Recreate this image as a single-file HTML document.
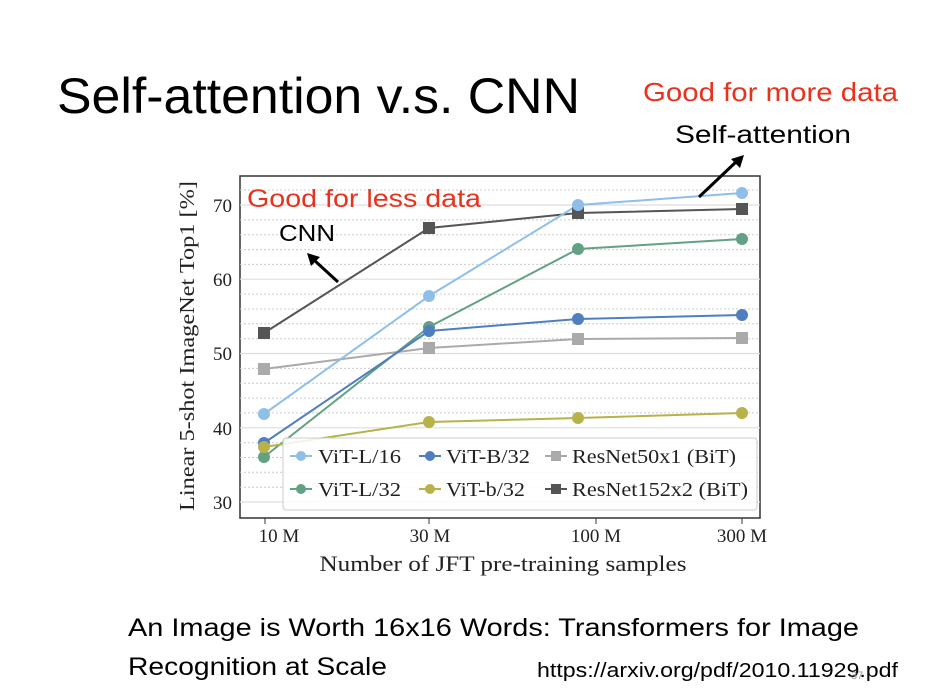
<!DOCTYPE html>
<html><head><style>
html,body{margin:0;padding:0;background:#fff;}
svg{display:block;}
</style></head><body>
<svg width="939" height="688" viewBox="0 0 939 688" xmlns="http://www.w3.org/2000/svg">
<rect width="939" height="688" fill="#fff"/>
<text x="57" y="113" font-family="Liberation Sans, sans-serif" font-size="50" fill="#000" textLength="523" lengthAdjust="spacingAndGlyphs">Self-attention v.s. CNN</text>
<text x="643" y="101" font-family="Liberation Sans, sans-serif" font-size="26" fill="#e8321e" textLength="255" lengthAdjust="spacingAndGlyphs">Good for more data</text>
<text x="675" y="143" font-family="Liberation Sans, sans-serif" font-size="25" fill="#000" textLength="176" lengthAdjust="spacingAndGlyphs">Self-attention</text>
<g font-family="Liberation Serif, serif">
<rect x="240" y="176" width="520" height="342" fill="#fff" stroke="#333" stroke-width="1.5"/>
<g stroke="#ccc" stroke-dasharray="2,2" stroke-width="1">
<line x1="240" x2="760" y1="487.2" y2="487.2"/><line x1="240" x2="760" y1="472.3" y2="472.3"/><line x1="240" x2="760" y1="457.5" y2="457.5"/><line x1="240" x2="760" y1="442.7" y2="442.7"/>
<line x1="240" x2="760" y1="412.9" y2="412.9"/><line x1="240" x2="760" y1="398.1" y2="398.1"/><line x1="240" x2="760" y1="383.2" y2="383.2"/><line x1="240" x2="760" y1="368.4" y2="368.4"/>
<line x1="240" x2="760" y1="338.7" y2="338.7"/><line x1="240" x2="760" y1="323.8" y2="323.8"/><line x1="240" x2="760" y1="309" y2="309"/><line x1="240" x2="760" y1="294.1" y2="294.1"/>
<line x1="240" x2="760" y1="264.4" y2="264.4"/><line x1="240" x2="760" y1="249.6" y2="249.6"/><line x1="240" x2="760" y1="234.7" y2="234.7"/><line x1="240" x2="760" y1="219.9" y2="219.9"/>
<line x1="240" x2="760" y1="190" y2="190"/>
</g>
<g stroke="#ddd" stroke-width="1.2">
<line x1="240" x2="760" y1="502" y2="502"/><line x1="240" x2="760" y1="427.8" y2="427.8"/><line x1="240" x2="760" y1="353.5" y2="353.5"/><line x1="240" x2="760" y1="279.2" y2="279.2"/><line x1="240" x2="760" y1="205" y2="205"/>
</g>
<g font-size="19" fill="#222" text-anchor="end">
<text x="232" y="509">30</text><text x="232" y="435">40</text><text x="232" y="360">50</text><text x="232" y="286">60</text><text x="232" y="212">70</text>
</g>
<g stroke="#333"><line x1="265" x2="265" y1="518" y2="524"/><line x1="429" x2="429" y1="518" y2="524"/><line x1="596" x2="596" y1="518" y2="524"/><line x1="742" x2="742" y1="518" y2="524"/></g>
<g font-size="19" fill="#222" text-anchor="middle">
<text x="279" y="542">10 M</text><text x="430" y="542">30 M</text><text x="596" y="542">100 M</text><text x="742" y="542">300 M</text>
<text x="503" y="571" font-size="22" textLength="367" lengthAdjust="spacingAndGlyphs">Number of JFT pre-training samples</text>
</g>
<text transform="translate(194,346) rotate(-90)" font-size="21" fill="#222" text-anchor="middle" textLength="330" lengthAdjust="spacingAndGlyphs">Linear 5-shot ImageNet Top1 [%]</text>
<g stroke-width="2" fill="none">
<polyline points="264,333 429,228 578,213 742,209" stroke="#555"/>
<polyline points="264,369 429,348 578,339 742,338" stroke="#aaa"/>
<polyline points="264,414 429,296 578,205 742,193" stroke="#8fbfe8"/>
<polyline points="264,457 429,327 578,249 742,239" stroke="#63a184"/>
<polyline points="264,443 429,331 578,319 742,315" stroke="#4f7fbf"/>
<polyline points="264,447 429,422 578,418 742,413" stroke="#b8b24a"/>
</g>
<g fill="#555"><rect x="258" y="327" width="12" height="12"/><rect x="423" y="222" width="12" height="12"/><rect x="572" y="207" width="12" height="12"/><rect x="736" y="203" width="12" height="12"/></g>
<g fill="#aaa"><rect x="258" y="363" width="12" height="12"/><rect x="423" y="342" width="12" height="12"/><rect x="572" y="333" width="12" height="12"/><rect x="736" y="332" width="12" height="12"/></g>
<g fill="#8fbfe8"><circle cx="264" cy="414" r="6"/><circle cx="429" cy="296" r="6"/><circle cx="578" cy="205" r="6"/><circle cx="742" cy="193" r="6"/></g>
<g fill="#63a184"><circle cx="264" cy="457" r="6"/><circle cx="429" cy="327" r="6"/><circle cx="578" cy="249" r="6"/><circle cx="742" cy="239" r="6"/></g>
<g fill="#4f7fbf"><circle cx="264" cy="443" r="6"/><circle cx="429" cy="331" r="6"/><circle cx="578" cy="319" r="6"/><circle cx="742" cy="315" r="6"/></g>
<g fill="#b8b24a"><circle cx="264" cy="447" r="6"/><circle cx="429" cy="422" r="6"/><circle cx="578" cy="418" r="6"/><circle cx="742" cy="413" r="6"/></g>
<rect x="283" y="438" width="474" height="72" rx="3" fill="#fff" fill-opacity="0.85" stroke="#ccc"/>
<g stroke-width="2">
<line x1="290" x2="312" y1="456" y2="456" stroke="#8fbfe8"/><circle cx="301" cy="456" r="5" fill="#8fbfe8"/>
<line x1="419" x2="441" y1="456" y2="456" stroke="#4f7fbf"/><circle cx="430" cy="456" r="5" fill="#4f7fbf"/>
<line x1="545" x2="567" y1="456" y2="456" stroke="#aaa"/><rect x="551" y="451" width="10" height="10" fill="#aaa"/>
<line x1="290" x2="312" y1="489" y2="489" stroke="#63a184"/><circle cx="301" cy="489" r="5" fill="#63a184"/>
<line x1="419" x2="441" y1="489" y2="489" stroke="#b8b24a"/><circle cx="430" cy="489" r="5" fill="#b8b24a"/>
<line x1="545" x2="567" y1="489" y2="489" stroke="#555"/><rect x="551" y="484" width="10" height="10" fill="#555"/>
</g>
<g font-size="20" fill="#222">
<text x="318" y="463" textLength="83" lengthAdjust="spacingAndGlyphs">ViT-L/16</text><text x="446" y="463" textLength="84" lengthAdjust="spacingAndGlyphs">ViT-B/32</text><text x="572" y="463" textLength="164" lengthAdjust="spacingAndGlyphs">ResNet50x1 (BiT)</text>
<text x="318" y="496" textLength="83" lengthAdjust="spacingAndGlyphs">ViT-L/32</text><text x="446" y="496" textLength="79" lengthAdjust="spacingAndGlyphs">ViT-b/32</text><text x="572" y="496" textLength="176" lengthAdjust="spacingAndGlyphs">ResNet152x2 (BiT)</text>
</g>
</g>
<text x="247" y="207" font-family="Liberation Sans, sans-serif" font-size="25" fill="#e8321e" textLength="234" lengthAdjust="spacingAndGlyphs">Good for less data</text>
<text x="279" y="241" font-family="Liberation Sans, sans-serif" font-size="23" fill="#000" textLength="56" lengthAdjust="spacingAndGlyphs">CNN</text>
<g stroke="#000" stroke-width="3">
<line x1="338" y1="282" x2="314" y2="260"/>
<line x1="699" y1="197" x2="737" y2="161"/>
</g>
<polygon points="307,253 320,257 311,266" fill="#000"/>
<polygon points="744,155 740,168 731,159" fill="#000"/>
<text x="128" y="636" font-family="Liberation Sans, sans-serif" font-size="25" fill="#000" textLength="731" lengthAdjust="spacingAndGlyphs">An Image is Worth 16x16 Words: Transformers for Image</text>
<text x="128" y="675" font-family="Liberation Sans, sans-serif" font-size="25" fill="#000" textLength="259" lengthAdjust="spacingAndGlyphs">Recognition at Scale</text>
<text x="537" y="677" font-family="Liberation Sans, sans-serif" font-size="20" fill="#000" textLength="361" lengthAdjust="spacingAndGlyphs">https://arxiv.org/pdf/2010.11929.pdf</text>
<text x="851" y="679" font-family="Liberation Sans, sans-serif" font-size="11" fill="#999">37</text>
</svg>
</body></html>
